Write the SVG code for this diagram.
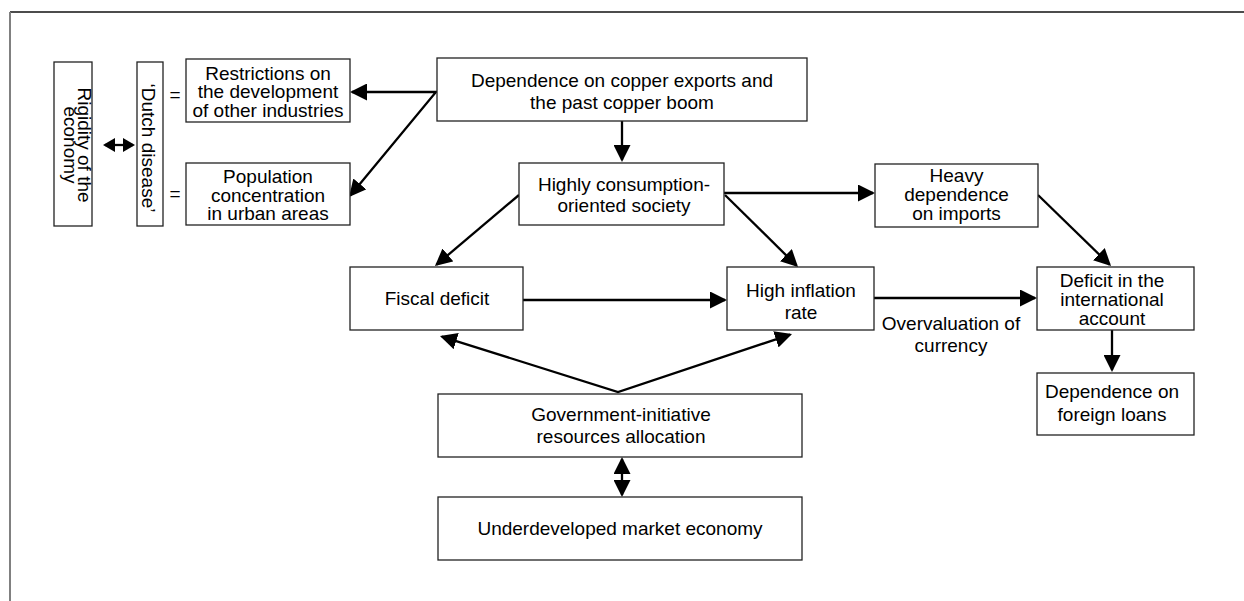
<svg xmlns="http://www.w3.org/2000/svg" width="1244" height="601" viewBox="0 0 1244 601">
<style>
.box{fill:#fff;stroke:#222;stroke-width:1.3}
.t{font-family:"Liberation Sans",Arial,Helvetica,sans-serif;font-size:19px;fill:#000;text-anchor:middle}
.c{fill:none;stroke:#000;stroke-width:2.3}
.big{marker-end:url(#ah)}
.both{marker-start:url(#ah);marker-end:url(#ah)}
.small{marker-start:url(#sh);marker-end:url(#sh)}
</style>
<defs>
<marker id="ah" markerUnits="userSpaceOnUse" markerWidth="17" markerHeight="17" viewBox="0 0 17 17" refX="15" refY="8.5" orient="auto-start-reverse"><path d="M0,0 L17,8.5 L0,17 z" fill="#000"/></marker>
<marker id="sh" markerUnits="userSpaceOnUse" markerWidth="12" markerHeight="14" viewBox="0 0 12 14" refX="10" refY="7" orient="auto-start-reverse"><path d="M0,0 L12,7 L0,14 z" fill="#000"/></marker>
</defs>
<rect width="1244" height="601" fill="#fff"/>
<g id="frame">
<line x1="10" y1="12" x2="1244" y2="12" stroke="#111" stroke-width="1.7"/>
<line x1="10" y1="12" x2="10" y2="601" stroke="#808080" stroke-width="2"/>
</g>
<g id="connectors">
<path class="c" style="marker-start:url(#ah);marker-end:url(#ah)" d="M352,92 L436,92 L350.3,195.5"/>
<line class="c big" x1="622" y1="121" x2="622" y2="160"/>
<line class="c big" x1="724" y1="193" x2="873" y2="193"/>
<line class="c big" x1="725" y1="195" x2="796.6" y2="265.6"/>
<line class="c big" x1="519" y1="195" x2="436.5" y2="264.7"/>
<line class="c big" x1="523" y1="300" x2="725" y2="300"/>
<line class="c big" x1="874" y1="298" x2="1035" y2="298"/>
<line class="c big" x1="1038" y1="195" x2="1109.6" y2="264.6"/>
<line class="c big" x1="1112" y1="330" x2="1112" y2="370"/>
<path class="c both" d="M441.9,336.6 L618,392 L790.1,334.6"/>
<line class="c both" x1="622" y1="459" x2="622" y2="495"/>
<line class="c small" x1="105" y1="145" x2="133" y2="145"/>
<text class="t" x="951" y="330">Overvaluation of</text>
<text class="t" x="951" y="351.7">currency</text>
<text class="t" x="175" y="101">=</text>
<text class="t" x="175" y="200">=</text>
</g>
<g id="rigidity">
<rect class="box" x="54" y="62" width="38" height="164"/>
<g transform="translate(73,145) rotate(90)">
<text class="t" x="0" y="-5">Rigidity of the</text>
<text class="t" x="0" y="9.5">economy</text>
</g>
</g>
<g id="dutch">
<rect class="box" x="137" y="62" width="26" height="164"/>
<g transform="translate(150,148) rotate(90)">
<text class="t" x="0" y="8.3">‘Dutch disease’</text>
</g>
</g>
<g id="restrictions">
<rect class="box" x="186" y="59" width="164" height="63"/>
<text class="t" x="268" y="79.5">Restrictions on</text>
<text class="t" x="268" y="98">the development</text>
<text class="t" x="268" y="116.5">of other industries</text>
</g>
<g id="population">
<rect class="box" x="186" y="163" width="164" height="62"/>
<text class="t" x="268" y="183.3">Population</text>
<text class="t" x="268" y="201.7">concentration</text>
<text class="t" x="268" y="220">in urban areas</text>
</g>
<g id="dependence">
<rect class="box" x="437" y="58" width="370" height="63"/>
<text class="t" x="622" y="86.7">Dependence on copper exports and</text>
<text class="t" x="622" y="109">the past copper boom</text>
</g>
<g id="highly">
<rect class="box" x="519" y="163" width="205" height="62"/>
<text class="t" x="624" y="190.7">Highly consumption-</text>
<text class="t" x="624" y="212.3">oriented society</text>
</g>
<g id="heavy">
<rect class="box" x="875" y="164" width="163" height="63"/>
<text class="t" x="956.5" y="181.7">Heavy</text>
<text class="t" x="956.5" y="201">dependence</text>
<text class="t" x="956.5" y="220">on imports</text>
</g>
<g id="fiscal">
<rect class="box" x="350" y="267" width="173" height="63"/>
<text class="t" x="437" y="305">Fiscal deficit</text>
</g>
<g id="inflation">
<rect class="box" x="727" y="267" width="147" height="63"/>
<text class="t" x="801" y="296.7">High inflation</text>
<text class="t" x="801" y="319.3">rate</text>
</g>
<g id="deficit">
<rect class="box" x="1037" y="267" width="157" height="63"/>
<text class="t" x="1112" y="286.7">Deficit in the</text>
<text class="t" x="1112" y="306">international</text>
<text class="t" x="1112" y="325">account</text>
</g>
<g id="foreign">
<rect class="box" x="1037" y="373" width="157" height="62"/>
<text class="t" x="1112" y="398.3">Dependence on</text>
<text class="t" x="1112" y="420.7">foreign loans</text>
</g>
<g id="government">
<rect class="box" x="438" y="394" width="364" height="63"/>
<text class="t" x="621" y="420.7">Government-initiative</text>
<text class="t" x="621" y="443.3">resources allocation</text>
</g>
<g id="underdeveloped">
<rect class="box" x="438" y="497" width="364" height="63"/>
<text class="t" x="620" y="535">Underdeveloped market economy</text>
</g>
</svg>
